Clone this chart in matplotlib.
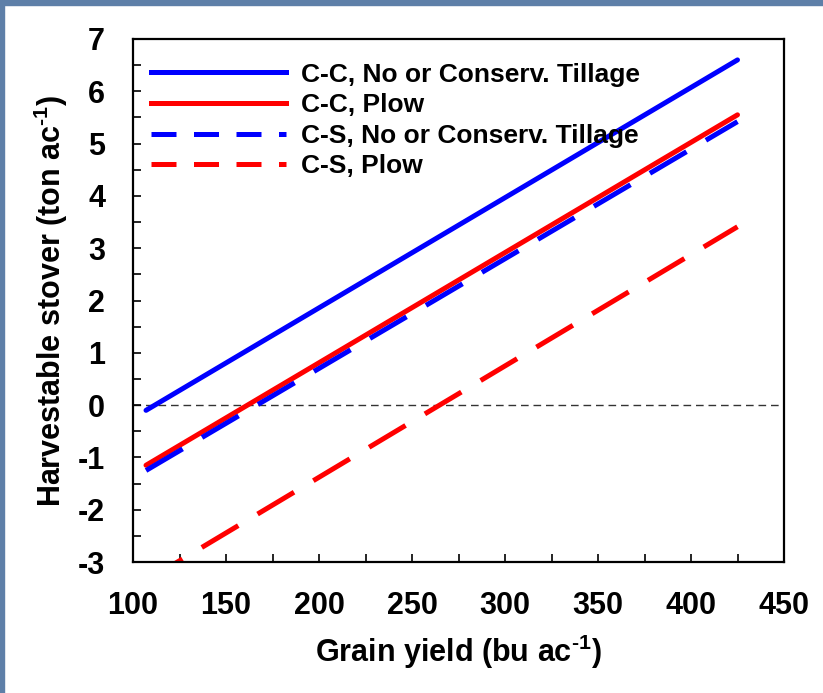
import matplotlib.pyplot as plt
from matplotlib.lines import Line2D
from matplotlib.patches import Rectangle
from matplotlib.ticker import MultipleLocator

plt.rcParams['font.family'] = ['Liberation Sans', 'DejaVu Sans']
plt.rcParams['font.weight'] = 'bold'
plt.rcParams['axes.unicode_minus'] = False
plt.rcParams['mathtext.fontset'] = 'custom'
plt.rcParams['mathtext.rm'] = 'Liberation Sans:bold'
plt.rcParams['mathtext.bf'] = 'Liberation Sans:bold'
plt.rcParams['mathtext.default'] = 'bf'

# grain yield (bu/ac) at the ends of each line
yield_x = [107, 425]
cc_notill = [-0.1, 6.6]
cc_plow = [-1.15, 5.55]
cs_notill = [-1.25, 5.42]
cs_plow = [-3.36, 3.41]

labels = ["C-C, No or Conserv. Tillage", "C-C, Plow",
          "C-S, No or Conserv. Tillage", "C-S, Plow"]

fig = plt.figure(figsize=(8.23, 6.93), dpi=100)
fig.patch.set_facecolor("white")
# slide-style border on top and left
border = "#5e7fa8"
fig.add_artist(Rectangle((0, 1 - 5 / 693), 1, 5 / 693, transform=fig.transFigure,
                         color=border, zorder=0))
fig.add_artist(Rectangle((0, 0), 4 / 823, 1, transform=fig.transFigure,
                         color=border, zorder=0))

ax = fig.add_axes([133 / 823, 1 - 562 / 693, (784 - 133) / 823, (562 - 39) / 693])

ax.axhline(0, color="#333333", lw=1, dashes=(5.5, 3.5), zorder=1)

lw = 3.6
ax.plot(yield_x, cc_notill, color="#0000ff", lw=lw, solid_capstyle="round")
ax.plot(yield_x, cc_plow, color="#ff0000", lw=lw, solid_capstyle="round")
ax.plot(yield_x, cs_notill, color="#0000ff", lw=lw, dashes=(8.5, 4.5),
        dash_capstyle="butt")
ax.plot(yield_x, cs_plow, color="#ff0000", lw=lw, dashes=(8.5, 4.5),
        dash_capstyle="butt")

ax.set_xlim(100, 450)
ax.set_ylim(-3, 7)
ax.xaxis.set_major_locator(MultipleLocator(50))
ax.xaxis.set_minor_locator(MultipleLocator(25))
ax.yaxis.set_major_locator(MultipleLocator(1))
ax.yaxis.set_minor_locator(MultipleLocator(0.5))
ax.tick_params(which="both", direction="in", length=6, width=1.2,
               top=False, right=False)
ax.tick_params(axis="y", which="major", labelsize=22, pad=20)
ax.tick_params(axis="x", which="major", labelsize=22, pad=21)
for s in ax.spines.values():
    s.set_linewidth(1.6)

ax.set_xlabel("Grain yield (bu ac$^{\\text{-1}}$)", fontsize=22,
              fontweight="bold", labelpad=8)
ax.set_ylabel("Harvestable stover (ton ac$^{\\text{-1}}$)", fontsize=22,
              fontweight="bold", labelpad=6)

handles = [
    Line2D([], [], color="#0000ff", lw=lw),
    Line2D([], [], color="#ff0000", lw=lw),
    Line2D([], [], color="#0000ff", lw=lw, dashes=(5, 3.5)),
    Line2D([], [], color="#ff0000", lw=lw, dashes=(5, 3.5)),
]
ax.legend(handles, labels, loc="upper left", frameon=False, fontsize=19,
          handlelength=5.1, handletextpad=0.55, labelspacing=0.25,
          borderaxespad=0.3, bbox_to_anchor=(0.0, 0.99))

fig.savefig("out.png", dpi=100)
